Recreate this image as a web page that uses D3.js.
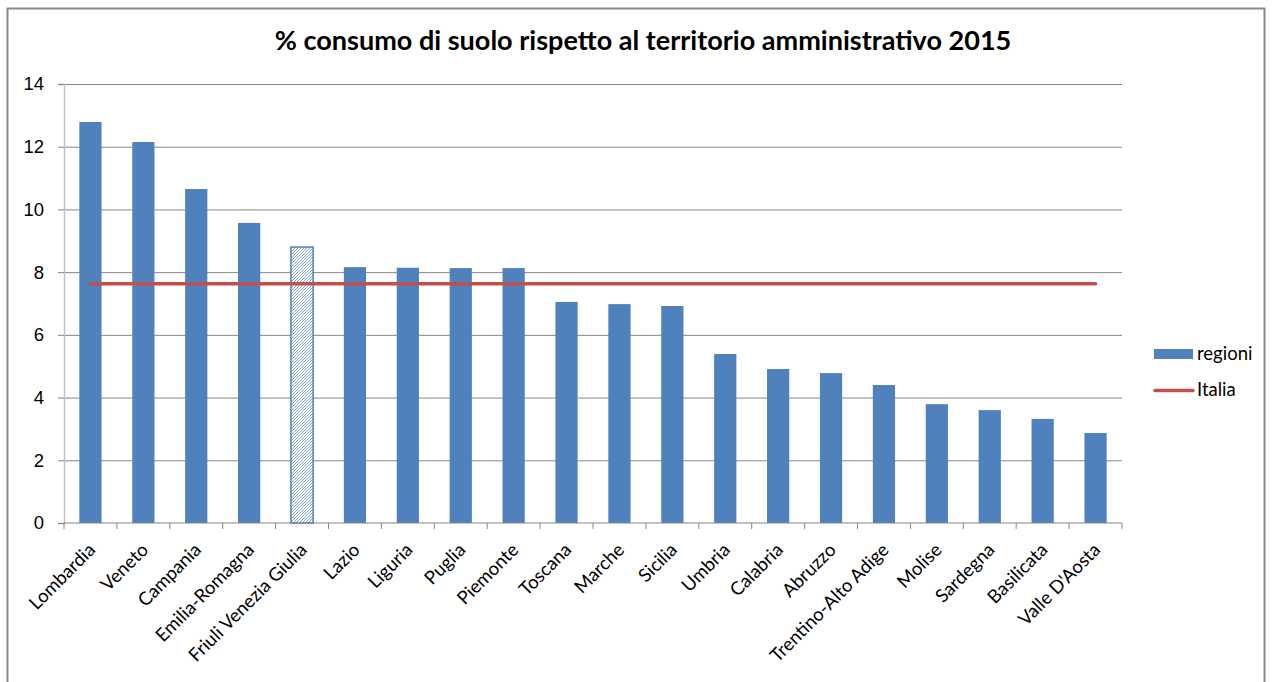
<!DOCTYPE html>
<html>
<head>
<meta charset="utf-8">
<script src="https://cdn.jsdelivr.net/npm/d3@7"></script>
<style>
  html, body { margin: 0; padding: 0; background: #fff; }
  svg { display: block; font-family: Lato, "Open Sans", sans-serif; }
</style>
</head>
<body>
<svg id="chart" width="1273" height="682"></svg>
<script>
// Regional land consumption, % of administrative territory, 2015
const regions = ["Lombardia", "Veneto", "Campania", "Emilia-Romagna", "Friuli Venezia Giulia",
  "Lazio", "Liguria", "Puglia", "Piemonte", "Toscana", "Marche", "Sicilia", "Umbria",
  "Calabria", "Abruzzo", "Trentino-Alto Adige", "Molise", "Sardegna", "Basilicata", "Valle D'Aosta"];
const regionValues = [12.79, 12.15, 10.65, 9.57, 8.80, 8.16, 8.14, 8.13, 8.13, 7.05,
  6.98, 6.92, 5.39, 4.91, 4.78, 4.40, 3.79, 3.60, 3.32, 2.87];
const italiaValue = 7.63;
const highlighted = "Friuli Venezia Giulia";
const yTicks = [0, 2, 4, 6, 8, 10, 12, 14];
const titleText = "% consumo di suolo rispetto al territorio amministrativo 2015";
const legendLabels = ["regioni", "Italia"];

const BLUE = "#4F81BD", RED = "#C0504D", GRID = "#868686";
const LABEL_SIZE = 18.5;

const svg = d3.select("#chart");

// outer chart frame
svg.append("rect")
  .attr("x", 7.5).attr("y", 8.5).attr("width", 1257).attr("height", 720)
  .attr("fill", "#fff").attr("stroke", "#898989").attr("stroke-width", 2);

// hatch pattern for the highlighted region
const defs = svg.append("defs");
const pat = defs.append("pattern")
  .attr("id", "hatch").attr("patternUnits", "userSpaceOnUse")
  .attr("width", 3).attr("height", 3);
pat.append("rect").attr("width", 3).attr("height", 3).attr("fill", "#fff");
pat.append("path").attr("d", "M-1,1 l2,-2 M0,3 l3,-3 M2,4 l2,-2")
  .attr("stroke", "#7FA3D1").attr("stroke-width", 1);

const plot = { left: 64, right: 1122, top: 84, bottom: 523 };

const x = d3.scaleBand().domain(regions)
  .range([plot.left, plot.right]).paddingInner(0.58).paddingOuter(0.29);
const y = d3.scaleLinear().domain([0, 14]).range([plot.bottom, plot.top]);

// gridlines
svg.append("g")
  .attr("transform", `translate(${plot.left},0)`)
  .call(d3.axisLeft(y).tickValues(yTicks.filter(t => t > 0)).tickSize(-(plot.right - plot.left)).tickFormat(""))
  .call(g => g.select(".domain").remove())
  .call(g => g.selectAll("line").attr("stroke", GRID).attr("stroke-width", 1));

// y axis
const yAxis = svg.append("g")
  .attr("transform", `translate(${plot.left},0)`)
  .call(d3.axisLeft(y).tickValues(yTicks).tickSize(6).tickPadding(14).tickFormat(d3.format("d")));
yAxis.select(".domain").attr("stroke", "#C0C0C0").attr("stroke-width", 1.5);
yAxis.selectAll(".tick line").attr("stroke", GRID);
yAxis.selectAll(".tick text").attr("font-size", LABEL_SIZE).attr("fill", "#000");

// bars
svg.append("g").selectAll("rect")
  .data(regions.map((r, i) => ({ r, v: regionValues[i] })))
  .join("rect")
  .attr("x", d => x(d.r))
  .attr("y", d => y(d.v))
  .attr("width", x.bandwidth())
  .attr("height", d => y(0) - y(d.v))
  .attr("fill", d => d.r === highlighted ? "url(#hatch)" : BLUE)
  .attr("stroke", d => d.r === highlighted ? BLUE : "none")
  .attr("stroke-width", 1.5);

// x axis with category separators
const step = x.step();
const xg = svg.append("g");
xg.append("line")
  .attr("x1", plot.left).attr("x2", plot.right)
  .attr("y1", y(0)).attr("y2", y(0))
  .attr("stroke", GRID);
xg.selectAll("line.sep")
  .data(d3.range(regions.length + 1))
  .join("line").attr("class", "sep")
  .attr("x1", i => plot.left + i * step).attr("x2", i => plot.left + i * step)
  .attr("y1", y(0)).attr("y2", y(0) + 6)
  .attr("stroke", GRID);
xg.selectAll("text")
  .data(regions)
  .join("text")
  .attr("text-anchor", "end")
  .attr("font-size", LABEL_SIZE)
  .attr("fill", "#000")
  .attr("transform", d => `translate(${x(d) + x.bandwidth() / 2 + 6},551) rotate(-45)`)
  .text(d => d);

// national average line
const line = d3.line().x(d => x(d) + x.bandwidth() / 2).y(() => y(italiaValue));
svg.append("path")
  .datum([regions[0], regions[regions.length - 1]])
  .attr("d", line)
  .attr("fill", "none").attr("stroke", RED)
  .attr("stroke-width", 3.5).attr("stroke-linecap", "round");

// title
const title = svg.append("text")
  .attr("x", 643).attr("y", 50)
  .attr("text-anchor", "middle")
  .attr("font-weight", "bold").attr("font-size", 24)
  .attr("fill", "#000")
  .text(titleText);
const tw = title.node().getComputedTextLength();
title.attr("font-size", 24 * 737 / tw);

// legend
const lg = svg.append("g");
lg.append("rect").attr("x", 1154).attr("y", 349).attr("width", 39).attr("height", 10).attr("fill", BLUE);
lg.append("line").attr("x1", 1155).attr("x2", 1193).attr("y1", 390.5).attr("y2", 390.5)
  .attr("stroke", RED).attr("stroke-width", 3.5).attr("stroke-linecap", "round");
lg.selectAll("text").data(legendLabels).join("text")
  .attr("x", 1197).attr("y", (d, i) => i === 0 ? 360 : 396)
  .attr("font-size", LABEL_SIZE).attr("fill", "#000")
  .text(d => d);
</script>
</body>
</html>
